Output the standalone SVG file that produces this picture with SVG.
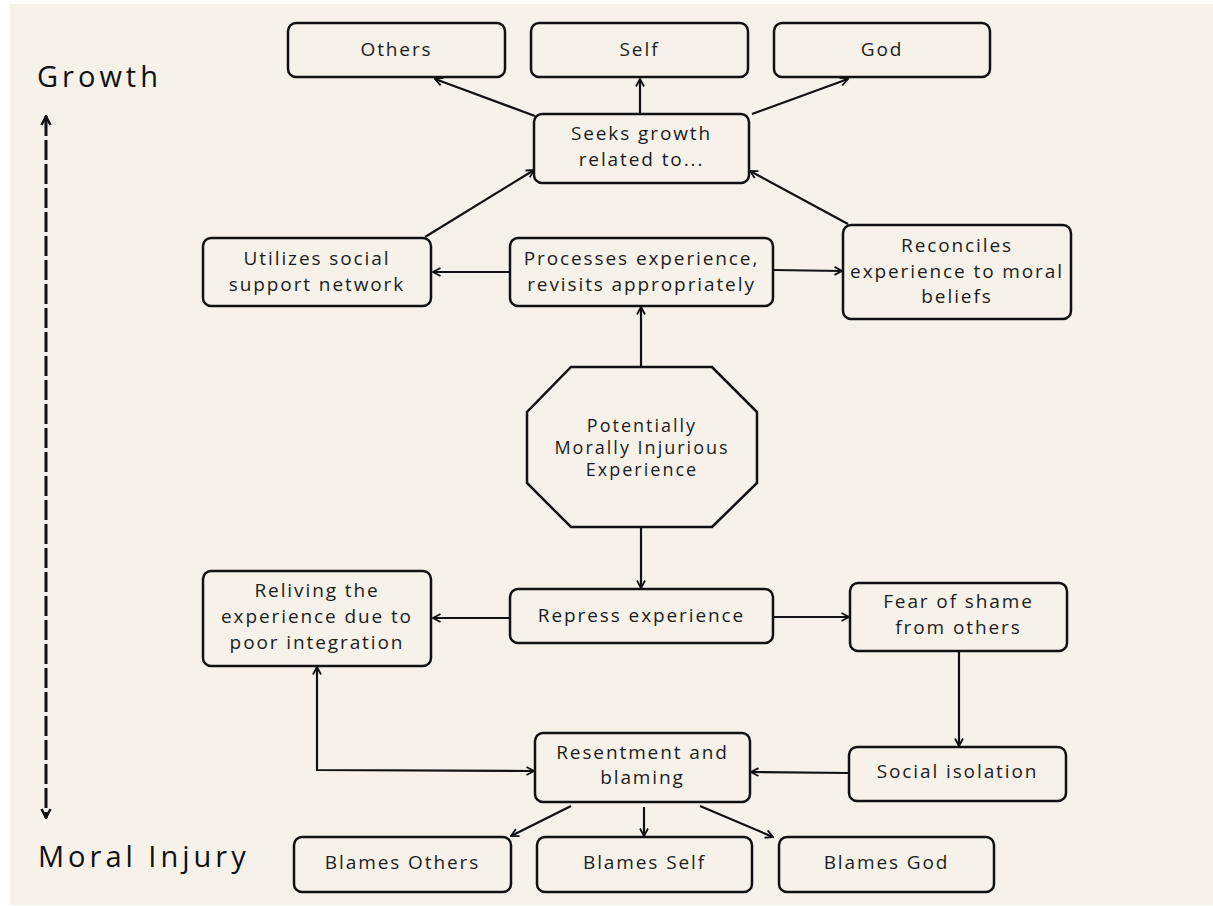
<svg xmlns="http://www.w3.org/2000/svg" width="1213" height="906" viewBox="0 0 1213 906">
<style>
.box{fill:none;stroke:#111;stroke-width:2.5}
.t{font-family:"Open Sans","Liberation Sans",sans-serif;font-size:19px;fill:#1c1c1c;text-anchor:middle;letter-spacing:1.9px}
.o{font-family:"Open Sans","Liberation Sans",sans-serif;font-size:18px;fill:#1c1c1c;text-anchor:middle;letter-spacing:2px}
.h{font-family:"Open Sans","Liberation Sans",sans-serif;font-size:29px;fill:#111;letter-spacing:4px}
.c{fill:none;stroke:#111;stroke-width:2.2}
</style>
<defs>
<marker id="a" viewBox="0 0 10 10" refX="9" refY="5" markerWidth="10" markerHeight="10" markerUnits="userSpaceOnUse" orient="auto-start-reverse">
<path d="M1.5,1 L9,5 L1.5,9" fill="none" stroke="#111" stroke-width="1.8"/>
</marker>
<marker id="b" viewBox="0 0 12 12" refX="11" refY="6" markerWidth="12" markerHeight="12" markerUnits="userSpaceOnUse" orient="auto-start-reverse">
<path d="M2,1.5 L10.5,6 L2,10.5" fill="none" stroke="#111" stroke-width="2.6"/>
</marker>
</defs>
<rect x="0" y="0" width="1213" height="906" fill="#ffffff"/>
<rect x="10" y="4" width="1203" height="901" fill="#F6F2EA"/>

<g id="axis">
<line x1="46" y1="116" x2="46" y2="818" stroke="#111" stroke-width="3" stroke-dasharray="20,4" marker-start="url(#b)" marker-end="url(#b)"/>
<text class="h" x="37" y="87" letter-spacing="4.6">Growth</text>
<text class="h" x="38" y="867" letter-spacing="3.4">Moral Injury</text>
</g>

<g id="connectors">
<line class="c" x1="535" y1="116" x2="435" y2="79" marker-end="url(#a)"/>
<line class="c" x1="640" y1="113" x2="640" y2="79" marker-end="url(#a)"/>
<line class="c" x1="752" y1="114" x2="848" y2="79" marker-end="url(#a)"/>
<line class="c" x1="425" y1="237" x2="534" y2="170" marker-end="url(#a)"/>
<line class="c" x1="848" y1="224" x2="750" y2="171" marker-end="url(#a)"/>
<line class="c" x1="510" y1="272" x2="433" y2="272" marker-end="url(#a)"/>
<line class="c" x1="773" y1="270" x2="842" y2="271" marker-end="url(#a)"/>
<line class="c" x1="641" y1="367" x2="641" y2="307" marker-end="url(#a)"/>
<line class="c" x1="641" y1="527" x2="641" y2="588" marker-end="url(#a)"/>
<line class="c" x1="510" y1="618" x2="433" y2="618" marker-end="url(#a)"/>
<line class="c" x1="773" y1="617" x2="849" y2="617" marker-end="url(#a)"/>
<line class="c" x1="959" y1="651" x2="959" y2="746" marker-end="url(#a)"/>
<line class="c" x1="849" y1="773" x2="751" y2="772" marker-end="url(#a)"/>
<path class="c" d="M317,667 L317,770 L534,771" marker-start="url(#a)" marker-end="url(#a)"/>
<line class="c" x1="571" y1="806" x2="511" y2="836" marker-end="url(#a)"/>
<line class="c" x1="644" y1="807" x2="644" y2="836" marker-end="url(#a)"/>
<line class="c" x1="700" y1="806" x2="773" y2="837" marker-end="url(#a)"/>
</g>

<g id="others"><rect class="box" x="288" y="23" width="217" height="54" rx="8"/><text class="t" x="396.5" y="56">Others</text></g>
<g id="self"><rect class="box" x="531" y="23" width="217" height="54" rx="8"/><text class="t" x="639.5" y="56">Self</text></g>
<g id="god"><rect class="box" x="774" y="23" width="216" height="54" rx="8"/><text class="t" x="882" y="56">God</text></g>
<g id="seeks"><rect class="box" x="534" y="114" width="215" height="69" rx="8"/><text class="t" x="641.5" y="140">Seeks growth</text><text class="t" x="641.5" y="166">related to...</text></g>
<g id="utilizes"><rect class="box" x="203" y="238" width="228" height="68" rx="8"/><text class="t" x="317" y="265">Utilizes social</text><text class="t" x="317" y="291">support network</text></g>
<g id="processes"><rect class="box" x="510" y="238" width="263" height="68" rx="8"/><text class="t" x="641.5" y="265">Processes experience,</text><text class="t" x="641.5" y="291">revisits appropriately</text></g>
<g id="reconciles"><rect class="box" x="843" y="225" width="228" height="94" rx="8"/><text class="t" x="957" y="252">Reconciles</text><text class="t" x="957" y="278">experience to moral</text><text class="t" x="957" y="303">beliefs</text></g>
<g id="pmie"><polygon class="box" points="571,367 712,367 757,412 757,483 712,527 571,527 527,483 527,412"/><text class="o" x="642" y="432">Potentially</text><text class="o" x="642" y="454">Morally Injurious</text><text class="o" x="642" y="476">Experience</text></g>
<g id="reliving"><rect class="box" x="203" y="571" width="228" height="95" rx="8"/><text class="t" x="317" y="597">Reliving the</text><text class="t" x="317" y="623">experience due to</text><text class="t" x="317" y="649">poor integration</text></g>
<g id="repress"><rect class="box" x="510" y="589" width="263" height="54" rx="8"/><text class="t" x="641.5" y="622">Repress experience</text></g>
<g id="fear"><rect class="box" x="850" y="583" width="217" height="68" rx="8"/><text class="t" x="958.5" y="608">Fear of shame</text><text class="t" x="958.5" y="634">from others</text></g>
<g id="isolation"><rect class="box" x="849" y="747" width="217" height="54" rx="8"/><text class="t" x="957.5" y="778">Social isolation</text></g>
<g id="resentment"><rect class="box" x="535" y="733" width="215" height="69" rx="8"/><text class="t" x="642.5" y="759">Resentment and</text><text class="t" x="642.5" y="784">blaming</text></g>
<g id="blames-others"><rect class="box" x="294" y="837" width="217" height="55" rx="8"/><text class="t" x="402.5" y="869">Blames Others</text></g>
<g id="blames-self"><rect class="box" x="537" y="837" width="215" height="55" rx="8"/><text class="t" x="644.5" y="869">Blames Self</text></g>
<g id="blames-god"><rect class="box" x="779" y="837" width="215" height="55" rx="8"/><text class="t" x="886.5" y="869">Blames God</text></g>
</svg>
